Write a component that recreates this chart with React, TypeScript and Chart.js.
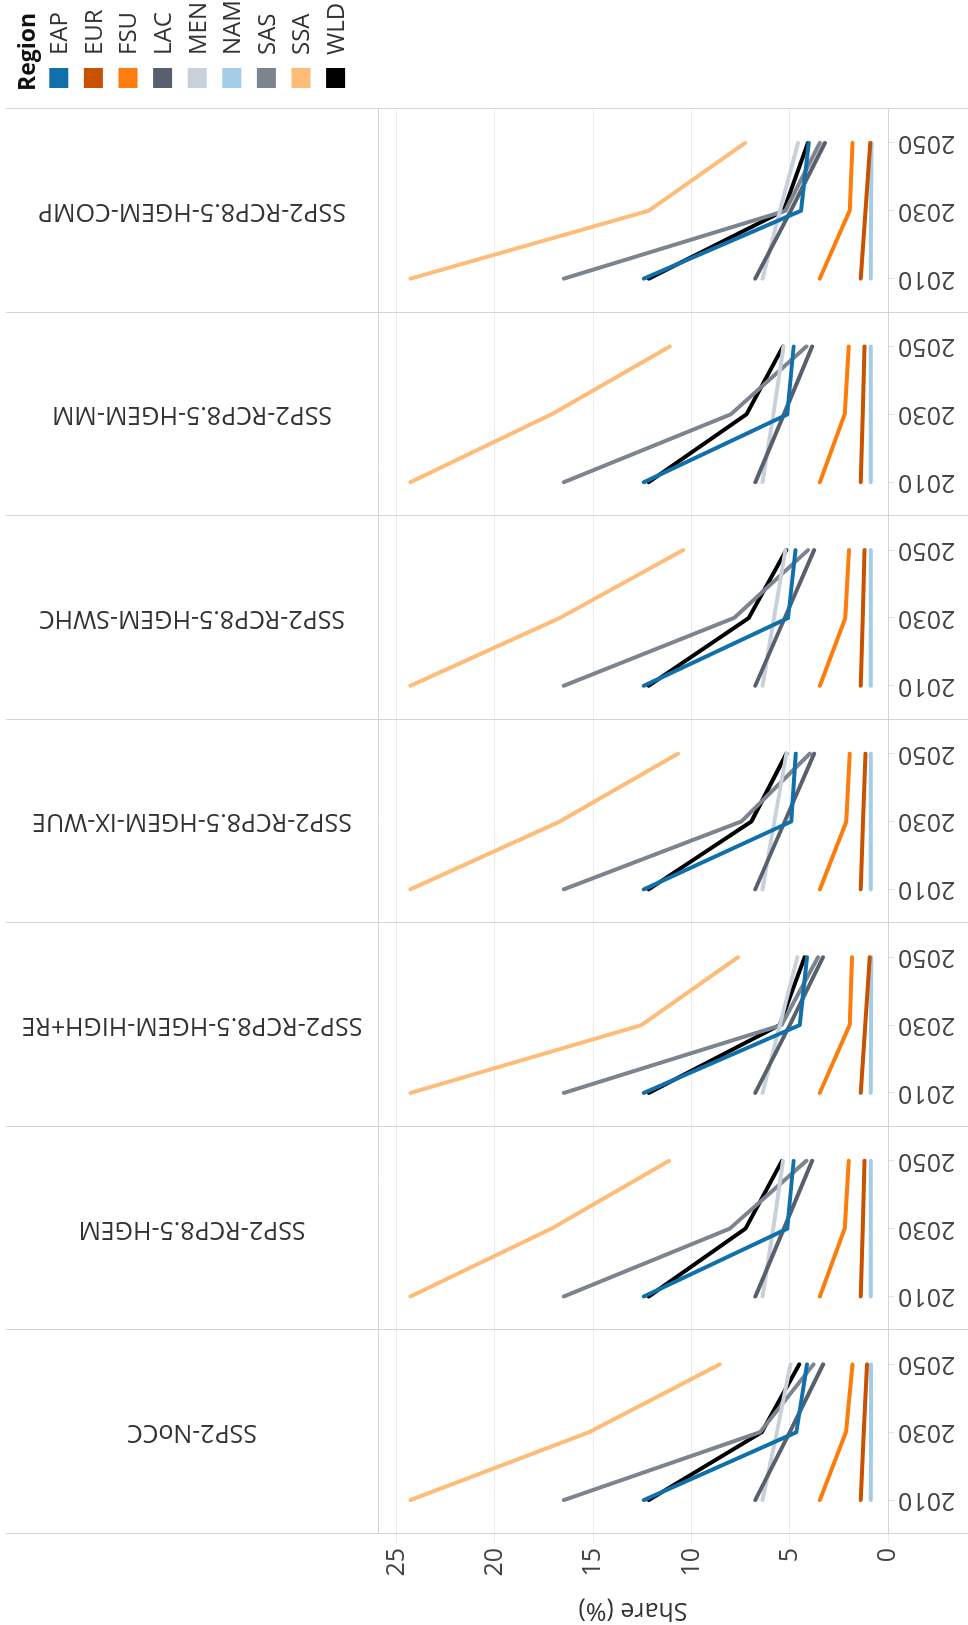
import React, { useEffect, useRef } from 'react';
import { Chart, registerables } from 'chart.js';

Chart.register(...registerables);

// ---------- data ----------
const YEARS = ['2010', '2030', '2050'];
const SCENARIOS = [
  'SSP2-NoCC',
  'SSP2-RCP8.5-HGEM',
  'SSP2-RCP8.5-HGEM-HIGH+RE',
  'SSP2-RCP8.5-HGEM-IX-WUE',
  'SSP2-RCP8.5-HGEM-SWHC',
  'SSP2-RCP8.5-HGEM-MM',
  'SSP2-RCP8.5-HGEM-COMP',
];
const REGIONS = ['EAP', 'EUR', 'FSU', 'LAC', 'MEN', 'NAM', 'SAS', 'SSA', 'WLD'];
const COLORS = ['#1170aa', '#c85200', '#fc7d0b', '#57606c', '#c8d0d9', '#a3cce9', '#7b848f', '#ffbc79', '#000000'];
const Y_TICKS = [0, 5, 10, 15, 20, 25];
const Y_MAX = 25.94;
const Y_TITLE = 'Share (%)';
const LEGEND_TITLE = 'Region';

// rows follow REGIONS, columns follow YEARS
const NOCC = [
  [12.42, 4.66, 4.12], [1.39, 1.23, 1.07], [3.47, 2.14, 1.81], [6.75, 5.0, 3.3], [6.38, 5.65, 4.96],
  [0.88, 0.87, 0.86], [16.49, 6.51, 3.79], [24.29, 15.21, 8.56], [12.17, 6.42, 4.51],
];
const HGEM = [
  [12.42, 5.12, 4.8], [1.39, 1.29, 1.19], [3.47, 2.2, 2.0], [6.75, 5.3, 3.86], [6.38, 5.84, 5.34],
  [0.88, 0.88, 0.88], [16.49, 8.05, 4.15], [24.29, 17.12, 11.14], [12.17, 7.25, 5.39],
];
const HIGH_RE = [
  [12.42, 4.49, 4.12], [1.39, 1.16, 0.93], [3.47, 1.95, 1.83], [6.75, 5.0, 3.31], [6.38, 5.5, 4.61],
  [0.88, 0.86, 0.85], [16.49, 5.42, 3.56], [24.29, 12.54, 7.63], [12.17, 5.51, 4.24],
];
const IX_WUE = [
  [12.42, 4.92, 4.69], [1.39, 1.27, 1.15], [3.47, 2.12, 1.95], [6.75, 5.25, 3.76], [6.38, 5.78, 5.17],
  [0.88, 0.88, 0.88], [16.49, 7.46, 3.98], [24.29, 16.69, 10.68], [12.17, 6.95, 5.17],
];
const SWHC = [
  [12.42, 5.08, 4.71], [1.39, 1.29, 1.19], [3.47, 2.17, 1.98], [6.75, 5.25, 3.76], [6.38, 5.8, 5.22],
  [0.88, 0.88, 0.88], [16.49, 7.83, 4.07], [24.29, 16.69, 10.42], [12.17, 7.08, 5.17],
];
const MM = [
  [12.42, 5.12, 4.8], [1.39, 1.29, 1.19], [3.47, 2.2, 2.0], [6.75, 5.3, 3.86], [6.38, 5.83, 5.31],
  [0.88, 0.88, 0.88], [16.49, 8.0, 4.15], [24.29, 17.12, 11.1], [12.17, 7.2, 5.34],
];
const COMP = [
  [12.42, 4.43, 4.03], [1.39, 1.15, 0.9], [3.47, 1.95, 1.81], [6.75, 4.95, 3.21], [6.38, 5.5, 4.58],
  [0.88, 0.86, 0.84], [16.49, 5.22, 3.47], [24.29, 12.18, 7.27], [12.17, 5.31, 4.08],
];
const SERIES = [NOCC, HGEM, HIGH_RE, IX_WUE, SWHC, MM, COMP];

// ---------- look ----------
const W = 1625;
const H = 968;
const FONT = "'Open Sans', 'DejaVu Sans', sans-serif";
const BORDER = '#d4d4d4';

const decor = {
  id: 'decor',
  afterDraw(chart: any) {
    const { ctx, chartArea: a } = chart;
    const n = SCENARIOS.length;
    const pw = (a.right - a.left) / n;
    ctx.save();
    ctx.strokeStyle = BORDER;
    ctx.lineWidth = 1;
    // panel separators
    for (let k = 0; k <= n; k++) {
      const x = Math.round(a.left + k * pw) + 0.5;
      ctx.beginPath();
      ctx.moveTo(x, 6);
      ctx.lineTo(x, H);
      ctx.stroke();
    }
    // top / axis lines
    ctx.beginPath();
    ctx.moveTo(a.left, Math.round(a.top) + 0.5);
    ctx.lineTo(a.right, Math.round(a.top) + 0.5);
    ctx.moveTo(a.left, Math.round(a.bottom) + 0.5);
    ctx.lineTo(a.right, Math.round(a.bottom) + 0.5);
    ctx.stroke();

    // panel titles
    ctx.fillStyle = '#333';
    ctx.font = `25px ${FONT}`;
    ctx.textAlign = 'center';
    ctx.textBaseline = 'middle';
    SCENARIOS.forEach((s, p) => {
      ctx.save();
      ctx.translate(a.left + (p + 0.5) * pw, a.top / 2 + 3);
      ctx.rotate(-Math.PI / 2);
      ctx.fillText(s, 0, 0);
      ctx.restore();
    });

    // legend
    const lx = a.right + 18;
    ctx.textAlign = 'left';
    ctx.fillStyle = '#111';
    ctx.font = `bold 23px ${FONT}`;
    ctx.fillText(LEGEND_TITLE, lx, 28);
    ctx.font = `24px ${FONT}`;
    REGIONS.forEach((r, i) => {
      const cy = 58.8 + i * 34.6;
      ctx.fillStyle = COLORS[i];
      ctx.fillRect(lx + 3, cy - 9.5, 20, 19);
      ctx.fillStyle = '#333';
      ctx.fillText(r, lx + 36, cy + 1.5);
    });
    ctx.restore();
  },
};

export default function App() {
  const ref = useRef<HTMLCanvasElement | null>(null);

  useEffect(() => {
    document.documentElement.style.overflow = 'hidden';
    document.body.style.overflow = 'hidden';
    const datasets: any[] = [];
    const scales: any = {
      y: {
        type: 'linear',
        position: 'left',
        min: 0,
        max: Y_MAX,
        afterBuildTicks: (s: any) => {
          s.ticks = Y_TICKS.map((v) => ({ value: v }));
        },
        afterFit: (s: any) => {
          s.width = 91;
        },
        ticks: { font: { size: 25, family: FONT }, color: '#444', padding: 5 },
        grid: { color: '#ebebeb', lineWidth: 1, tickLength: 9 },
        border: { display: false },
        title: { display: true, text: Y_TITLE, font: { size: 25, family: FONT }, color: '#333', padding: 0 },
      },
    };
    SCENARIOS.forEach((s, p) => {
      const id = 'x' + p;
      scales[id] = {
        type: 'category',
        labels: YEARS,
        position: 'bottom',
        stack: 'panels',
        stackWeight: 1,
        offset: true,
        afterFit: (sc: any) => {
          sc.height = 80;
        },
        ticks: {
          font: { size: 25, family: FONT },
          color: '#444',
          padding: 4,
          minRotation: 90,
          maxRotation: 90,
          autoSkip: false,
        },
        grid: { drawOnChartArea: false, tickLength: 6, color: '#e0e0e0' },
        border: { display: false },
      };
      REGIONS.forEach((r, i) => {
        datasets.push({
          label: `${s} ${r}`,
          data: SERIES[p][i],
          xAxisID: id,
          yAxisID: 'y',
          borderColor: COLORS[i],
          backgroundColor: COLORS[i],
          borderWidth: 4,
          pointRadius: 0,
          pointHoverRadius: 0,
          tension: 0,
          fill: false,
          borderCapStyle: 'round',
          borderJoinStyle: 'round',
        });
      });
    });

    const chart = new Chart(ref.current as HTMLCanvasElement, {
      type: 'line',
      data: { labels: YEARS, datasets },
      options: {
        responsive: false,
        devicePixelRatio: 1,
        animation: false,
        layout: { padding: { top: 378, right: 109, left: 0, bottom: 0 } },
        plugins: { legend: { display: false }, tooltip: { enabled: false } },
        scales,
      },
      plugins: [decor],
    } as any);
    return () => chart.destroy();
  }, []);

  return (
    <div
      style={{
        position: 'absolute',
        left: 0,
        top: 0,
        width: W,
        height: H,
        background: '#fff',
        transformOrigin: '0 0',
        transform: `translate(0px, ${W}px) rotate(-90deg)`,
      }}
    >
      <canvas ref={ref} width={W} height={H} style={{ display: 'block', width: W, height: H }} />
    </div>
  );
}
